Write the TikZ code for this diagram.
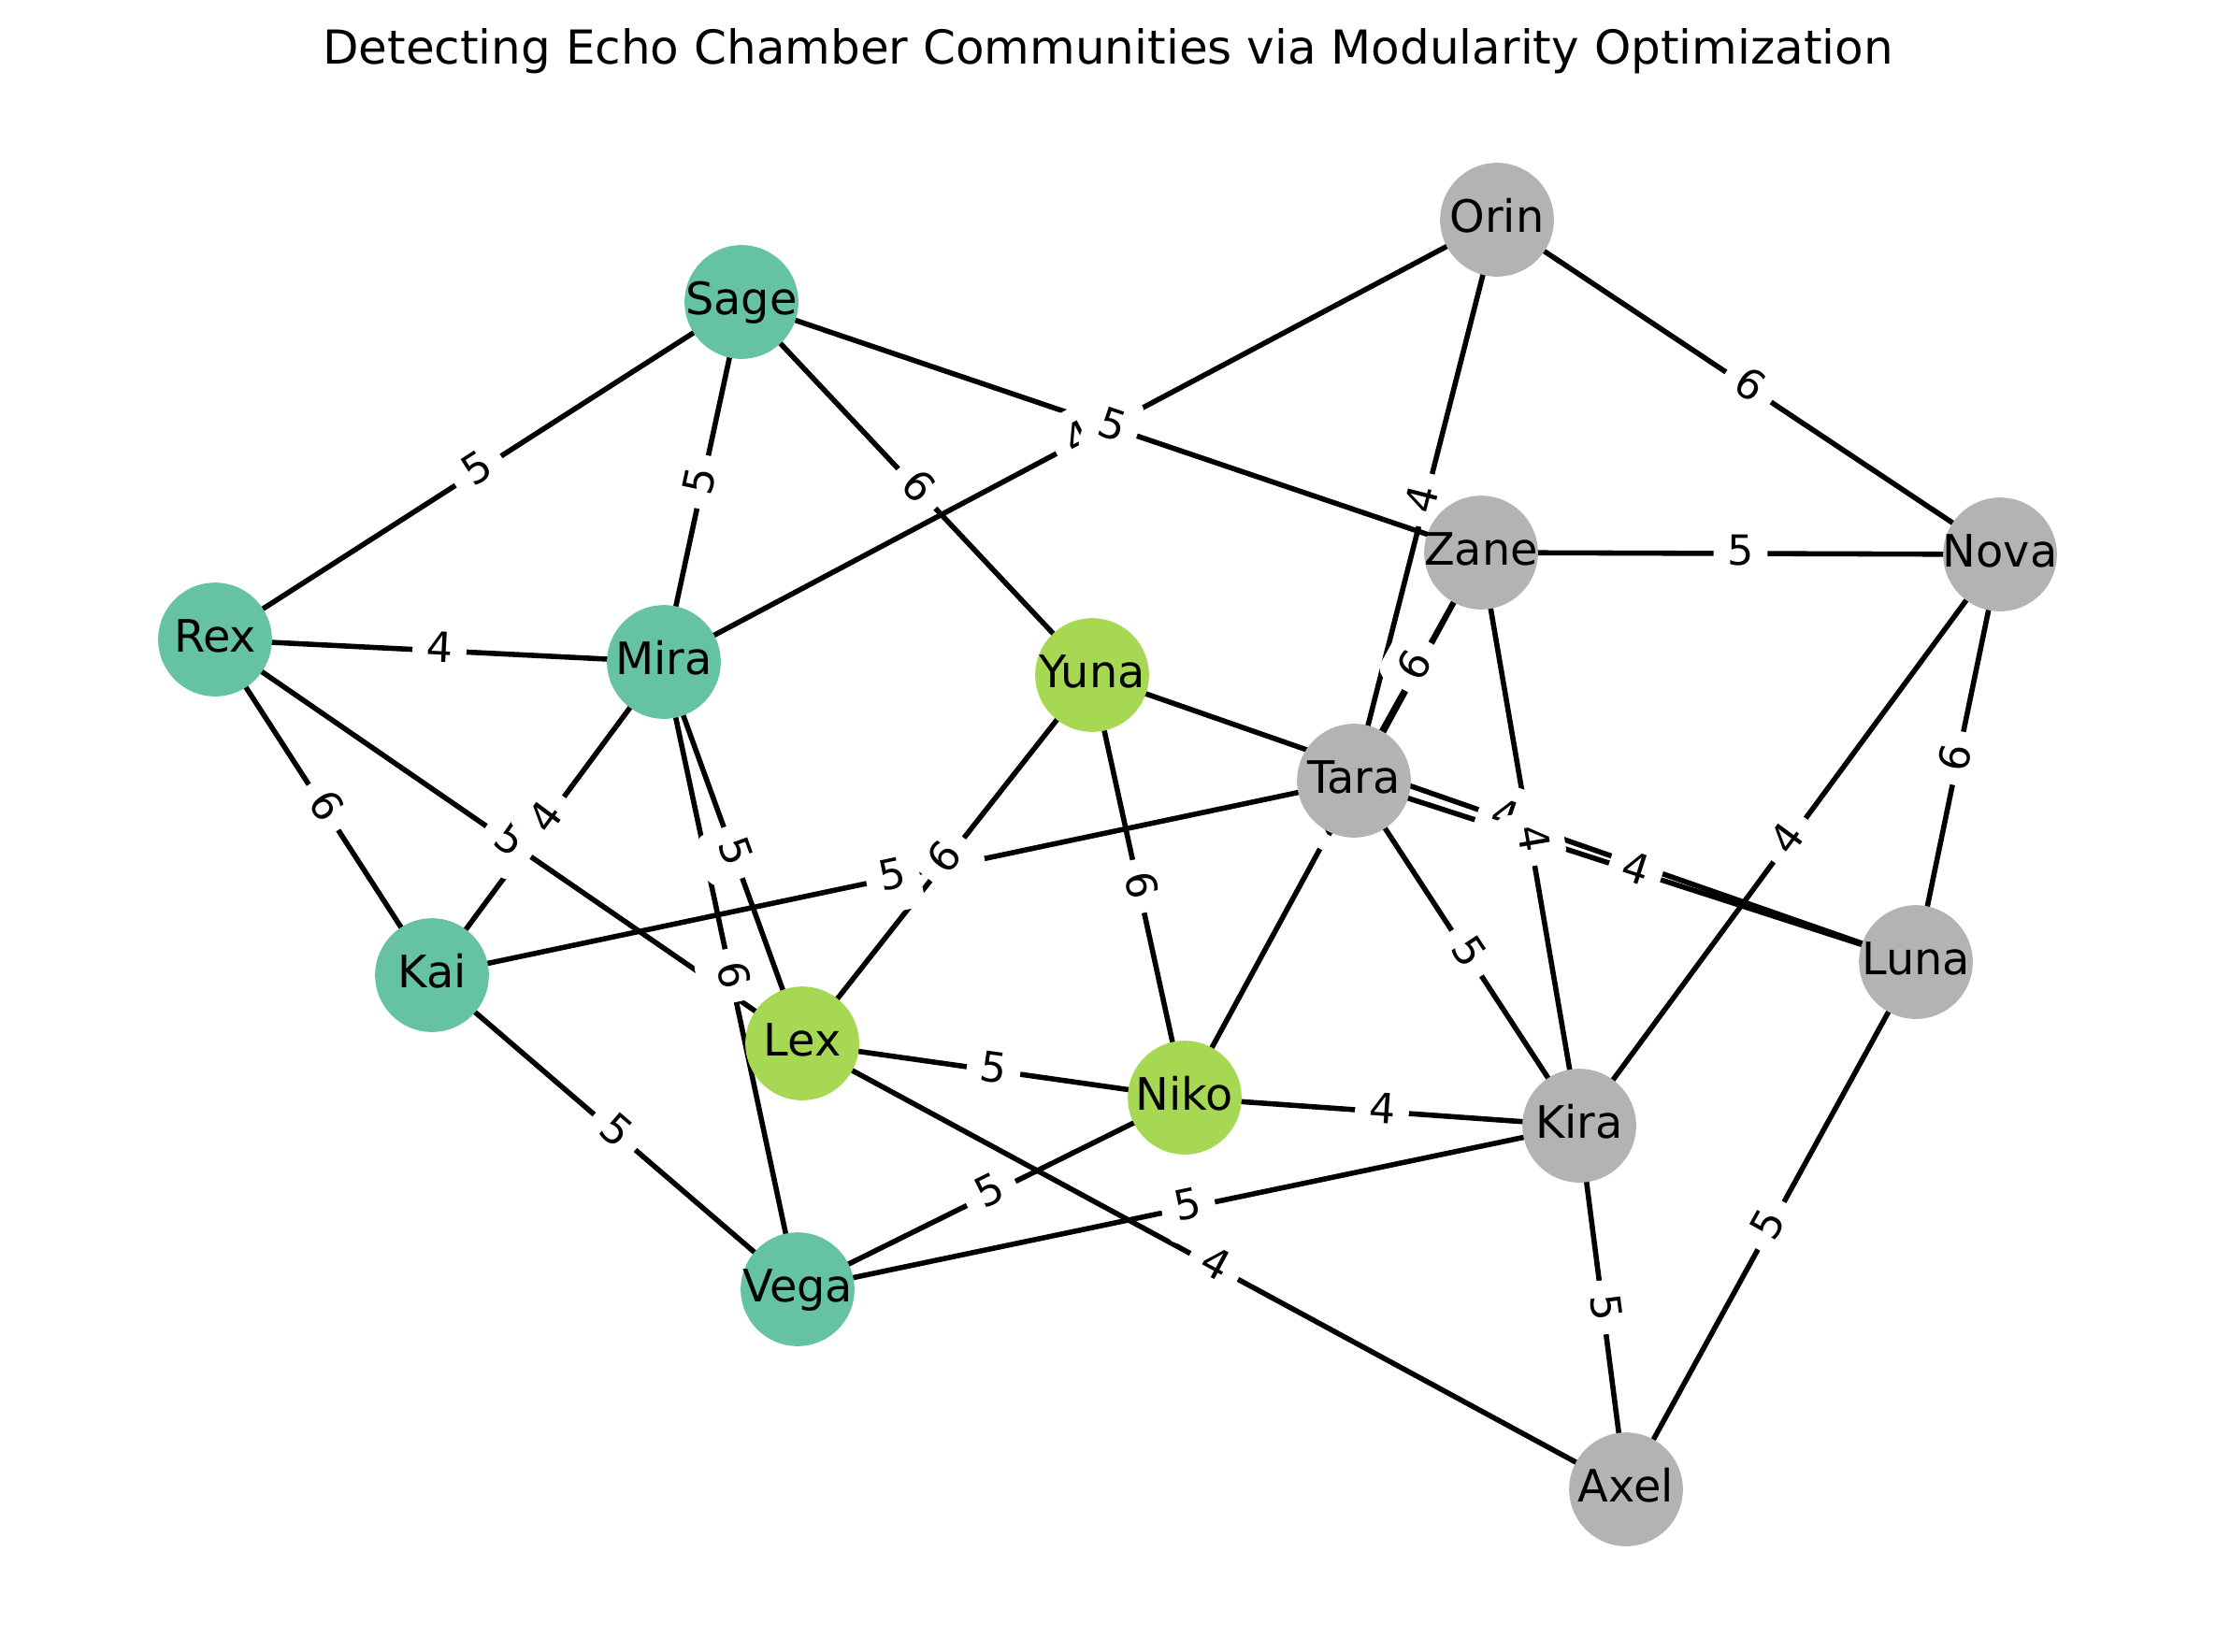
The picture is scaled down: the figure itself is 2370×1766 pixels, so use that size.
\documentclass[tikz,border=0pt]{standalone}
\usepackage{fontspec}
\setmainfont{DejaVu Sans}
\definecolor{cA}{HTML}{66C2A5}
\definecolor{cB}{HTML}{A6D854}
\definecolor{cC}{HTML}{B3B3B3}
\pgfdeclarelayer{bglayer}
\pgfdeclarelayer{edgelayer}
\pgfdeclarelayer{labellayer}
\pgfsetlayers{bglayer,edgelayer,labellayer,main}
\begin{document}
\begin{tikzpicture}[x=0.36pt,y=-0.36pt,
  vnode/.style={circle, minimum size=43.8pt, inner sep=-7pt, outer sep=0pt,
    font=\fontsize{17.2}{20}\selectfont, text height=13.07pt, text depth=3.58pt},
  gA/.style={vnode, fill=cA},
  gB/.style={vnode, fill=cB},
  gC/.style={vnode, fill=cC},
  elink/.style={line width=2pt, black},
  elab/.style={fill=white, draw=white, line width=1pt, rounded corners=4.8pt,
    inner sep=4.8pt, font=\fontsize{16}{19}\selectfont,
    text height=12.16pt, text depth=3.33pt, sloped, pos=0.5}
]
\begin{pgfonlayer}{bglayer}
\fill[white] (0,0) rectangle (2370,1766);
\end{pgfonlayer}
\useasboundingbox (0,0) rectangle (2370,1766);

\node[font=\fontsize{18}{21}\selectfont, anchor=base] (title) at (1185,68)
  {Detecting Echo Chamber Communities via Modularity Optimization};

% nodes
\node[gC] (orin) at (1601,235) {Orin};
\node[gA] (sage) at (793,323) {Sage};
\node[gC] (zane) at (1584,591) {Zane};
\node[gC] (nova) at (2139,593) {Nova};
\node[gA] (rex)  at (230,684)  {Rex};
\node[gA] (mira) at (710,708)  {Mira};
\node[gB] (yuna) at (1168,722) {Yuna};
\node[gC] (tara) at (1448,835) {Tara};
\node[gA] (kai)  at (462,1043) {Kai};
\node[gC] (luna) at (2049,1029) {Luna};
\node[gB] (lex)  at (858,1116) {Lex};
\node[gB] (niko) at (1267,1174) {Niko};
\node[gC] (kira) at (1689,1204) {Kira};
\node[gA] (vega) at (853,1379) {Vega};
\node[gC] (axel) at (1739,1593) {Axel};

% edges
\begin{pgfonlayer}{edgelayer}
\foreach \a/\b in {sage/rex, sage/mira, sage/yuna, orin/mira, sage/zane, orin/tara,
  orin/nova, zane/nova, zane/tara, niko/zane, rex/mira, rex/kai, rex/lex, mira/kai,
  mira/lex, mira/vega, kai/tara, yuna/lex, yuna/niko, yuna/luna, tara/luna, zane/kira,
  tara/kira, nova/kira, nova/luna, kai/vega, lex/niko, lex/axel, niko/kira, niko/vega,
  vega/kira, kira/axel, luna/axel}
  \draw[elink] (\a.center) -- (\b.center);
\end{pgfonlayer}

% edge labels
\begin{pgfonlayer}{labellayer}
\foreach \a/\b/\w in {sage/rex/5, sage/mira/5, sage/yuna/6, orin/mira/4, sage/zane/5,
  orin/tara/4, orin/nova/6, zane/nova/5, zane/tara/6, niko/zane/4, rex/mira/4,
  rex/kai/6, rex/lex/5, mira/kai/4, mira/lex/5, mira/vega/6, kai/tara/5, yuna/lex/6,
  yuna/niko/6, yuna/luna/4, tara/luna/4, zane/kira/4, tara/kira/5, nova/kira/4,
  nova/luna/6, kai/vega/5, lex/niko/5, lex/axel/4, niko/kira/4, niko/vega/5,
  vega/kira/5, kira/axel/5, luna/axel/5}
  \path (\a.center) -- node[elab] (l-\a-\b) {\w} (\b.center);
\end{pgfonlayer}
\end{tikzpicture}
\end{document}
